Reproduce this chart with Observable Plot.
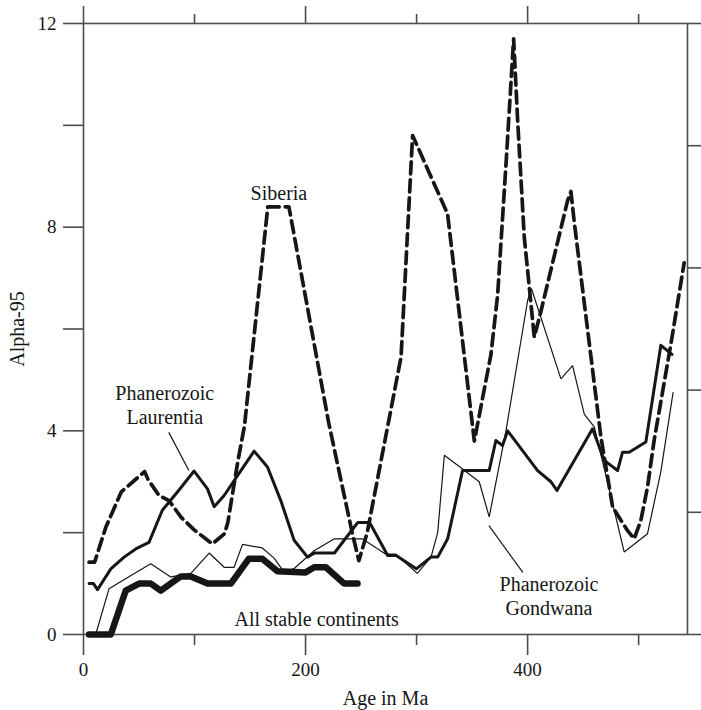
<!DOCTYPE html>
<html><head><meta charset="utf-8">
<script src="https://cdn.jsdelivr.net/npm/d3@7"></script>
<script src="https://cdn.jsdelivr.net/npm/@observablehq/plot@0.6"></script>
<style>
body{margin:0;background:#fff}
#chart svg{display:block}
</style>
</head><body><div id="chart"></div>
<script>
// ---- data ----
const siberiaAge = [5,10,20,34,55,58,68,77,88,100,116,127,130,139,145,166,173,185,221,242,248,255.5,286,296.4,303.8,327.9,352,367,373,381,387.4,391,397,401.6,406,412,436,439,442,466,476.6,490,496,502,508,514,529,541];
const siberiaA95 = [1.42,1.42,2.1,2.8,3.2,3.05,2.73,2.63,2.3,2.05,1.78,1.98,2.2,3.4,4.1,8.4,8.4,8.4,4.14,2.0,1.45,2.0,5.45,9.8,9.44,8.26,3.8,5.5,6.67,9.4,11.7,10.1,7.8,6.8,5.84,6.35,8.52,8.7,8.1,3.88,2.5,2.04,1.88,2.24,2.9,3.82,5.7,7.3];

const laurentiaAge = [5,9,12.6,24.6,36.6,47,59,71,84.6,99.6,111.7,117.7,126.7,138.7,153.7,165.7,177.7,189.7,201.8,208,226,247,257.7,274,281.6,299.7,313,319,328,341.4,365.4,371.4,377.4,382,409,421,426.4,458.5,469,481,485.5,491.5,506.5,520,530];
const laurentiaA95 = [1.0,1.0,0.88,1.29,1.52,1.68,1.81,2.44,2.8,3.21,2.86,2.51,2.73,3.12,3.6,3.29,2.63,1.85,1.52,1.6,1.6,2.2,2.2,1.55,1.55,1.29,1.52,1.52,1.88,3.22,3.22,3.81,3.71,4.0,3.22,3.0,2.83,4.04,3.42,3.22,3.58,3.58,3.78,5.68,5.5];

const gondwanaAge = [11,23,42,60.6,78.6,96.7,113.2,126.7,135.7,143.2,161,171.7,180.8,190,208,226,251,272,281,300.6,313,319,325,341.4,356.4,365.4,380.5,400,403.5,430,440.5,451,460,487,508,520,531];
const gondwanaA95 = [0,0.9,1.15,1.39,1.13,1.2,1.6,1.32,1.32,1.77,1.7,1.5,1.22,1.3,1.65,1.88,1.88,1.58,1.58,1.2,1.52,2.0,3.52,3.25,3.0,2.31,4.0,6.56,6.79,5.02,5.28,4.33,4.08,1.62,1.98,3.2,4.75];

const allStableAge = [5,24.6,38,50,60.6,69.6,87.6,96.7,111.7,132.7,149,161,174.7,200,207.8,218.3,234.8,246.8];
const allStableA95 = [0,0,0.86,1.0,1.0,0.86,1.14,1.14,1.0,1.0,1.49,1.49,1.24,1.22,1.32,1.32,1.0,1.0];

const xMajorTicks = [0,200,400];
const xMinorTicks = [100,300,500];
const yLabelTicks = [0,4,8,12];
const yMinorTicks = [2,6,10];
const rightTicks = [0,2.4,4.8,7.2,9.6,12];

const labelTexts = ["Siberia","Phanerozoic\nLaurentia","Phanerozoic\nGondwana","All stable continents"];
const labelAge   = [176, 73.2, 419.2, 210];
const labelA95   = [8.68, 4.53, 0.76, 0.31];

const leaderAge1 = [76.8, 365.1];
const leaderA951 = [3.97, 2.14];
const leaderAge2 = [94.9, 395.7];
const leaderA952 = [3.22, 1.22];

// ---- build tables ----
const zip = (xs, ys) => xs.map((x, i) => ({age: x, a95: ys[i]}));
const siberia = zip(siberiaAge, siberiaA95);
const laurentia = zip(laurentiaAge, laurentiaA95);
const gondwana = zip(gondwanaAge, gondwanaA95);
const allStable = zip(allStableAge, allStableA95);
const labels = labelTexts.map((t, i) => ({text: t, age: labelAge[i], a95: labelA95[i]}));
const leaders = leaderAge1.map((x, i) => ({x1: x, y1: leaderA951[i], x2: leaderAge2[i], y2: leaderA952[i]}));

const axisColor = "#4d4d4d";
const ink = "#161616";
const font = "'Liberation Serif', 'DejaVu Serif', serif";

const chart = Plot.plot({
  width: 701,
  height: 710,
  marginLeft: 83,
  marginRight: 14,
  marginTop: 23,
  marginBottom: 76,
  style: {fontFamily: font, fontSize: "19px", color: ink, background: "#fff"},
  x: {domain: [0, 544], label: null},
  y: {domain: [0, 12], label: null},
  marks: [
    Plot.frame({stroke: axisColor, strokeWidth: 1.6}),
    // left axis
    Plot.axisY({ticks: yLabelTicks, tickSize: 20, tickPadding: 7, stroke: axisColor, strokeWidth: 1.6, fill: ink, fontSize: 19, label: null}),
    Plot.axisY({ticks: yMinorTicks, tickSize: 20, tickFormat: () => "", stroke: axisColor, strokeWidth: 1.6, label: null}),
    // right axis (ticks only)
    Plot.axisY({anchor: "right", ticks: rightTicks, tickSize: 14, tickFormat: () => "", stroke: axisColor, strokeWidth: 1.6, label: null}),
    // bottom axis
    Plot.axisX({ticks: xMajorTicks, tickSize: 21, tickPadding: 7, stroke: axisColor, strokeWidth: 1.6, fill: ink, fontSize: 19, label: null}),
    Plot.axisX({ticks: xMinorTicks, tickSize: 11, tickFormat: () => "", stroke: axisColor, strokeWidth: 1.6, label: null}),
    // top axis
    Plot.axisX({anchor: "top", ticks: xMajorTicks, tickSize: 18, tickFormat: () => "", stroke: axisColor, strokeWidth: 1.6, label: null}),
    Plot.axisX({anchor: "top", ticks: xMinorTicks, tickSize: 10, tickFormat: () => "", stroke: axisColor, strokeWidth: 1.6, label: null}),
    // axis titles
    Plot.text(["Age in Ma"], {frameAnchor: "bottom", dy: 64, lineAnchor: "middle", fontSize: 20, fill: ink}),
    Plot.text(["Alpha-95"], {frameAnchor: "left", dx: -66, rotate: -90, lineAnchor: "middle", textAnchor: "middle", fontSize: 20, fill: ink}),
    // data lines
    Plot.line(gondwana, {x: "age", y: "a95", stroke: ink, strokeWidth: 1.2, strokeLinejoin: "miter"}),
    Plot.line(laurentia, {x: "age", y: "a95", stroke: ink, strokeWidth: 3, strokeLinejoin: "round"}),
    Plot.line(siberia, {x: "age", y: "a95", stroke: ink, strokeWidth: 3.7, strokeDasharray: "12,6", strokeLinejoin: "round"}),
    Plot.line(allStable, {x: "age", y: "a95", stroke: ink, strokeWidth: 6.5, strokeLinejoin: "round", strokeLinecap: "round"}),
    // annotations
    Plot.link(leaders, {x1: "x1", y1: "y1", x2: "x2", y2: "y2", stroke: ink, strokeWidth: 1.2}),
    Plot.text(labels, {x: "age", y: "a95", text: "text", fontSize: 20, lineHeight: 1.2, lineAnchor: "middle", fill: ink})
  ]
});
document.getElementById("chart").appendChild(chart);
</script>
</body></html>
